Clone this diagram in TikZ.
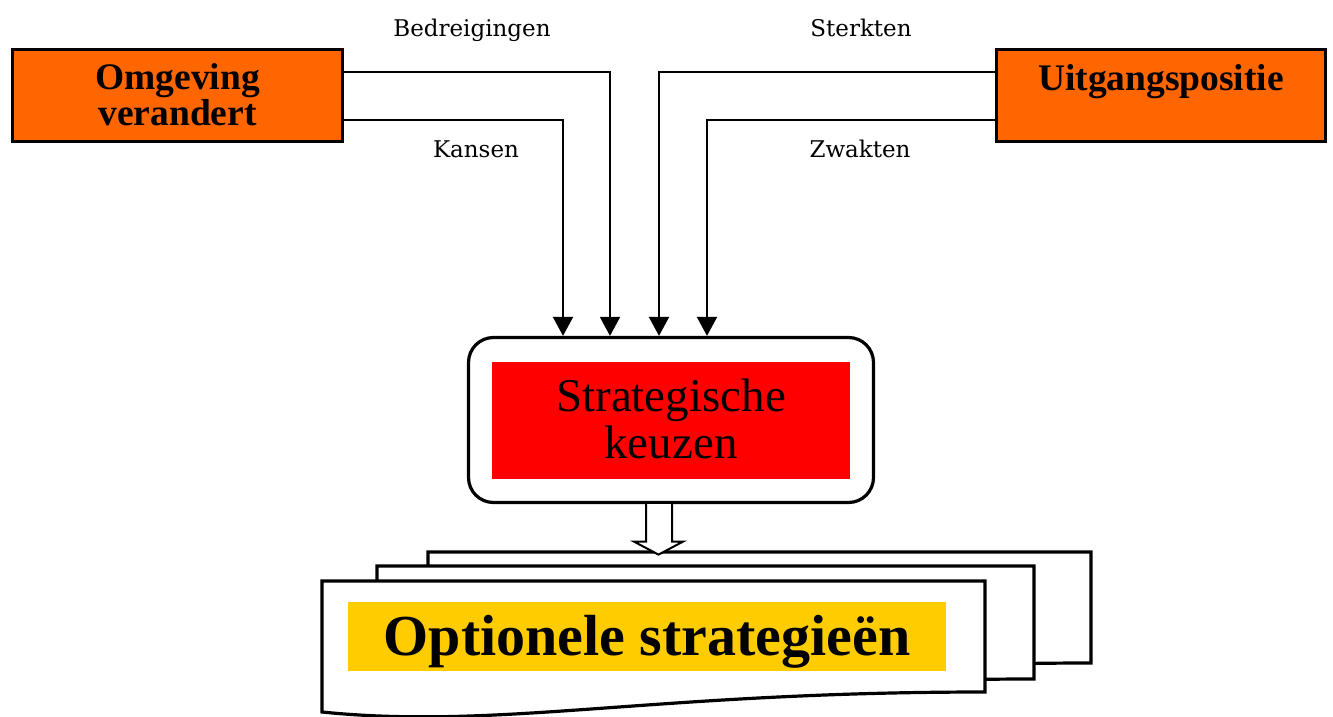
\documentclass[tikz,border=0pt]{standalone}
\usepackage{fontspec}
\setmainfont{Liberation Serif}
\newfontfamily\flowfont{DejaVu Serif}
\usetikzlibrary{arrows.meta}

\definecolor{boxorange}{HTML}{FF6600}
\definecolor{keyred}{HTML}{FF0000}
\definecolor{optyellow}{HTML}{FFCC00}

\begin{document}
\begin{tikzpicture}[x=1pt,y=-1pt,
  inputbox/.style={draw=black, line width=3.5pt, fill=boxorange, inner sep=0pt},
  boxtext/.style={font=\bfseries\fontsize{37.5}{33}\selectfont, align=center, inner sep=0pt, anchor=base},
  flowlabel/.style={font=\flowfont\fontsize{23}{26}\selectfont, inner sep=0pt, anchor=base},
  conn/.style={line width=1.8pt, -{Triangle[length=19pt,width=20pt]}},
  docpage/.style={draw=black, line width=3.2pt, fill=white, line join=miter},
]
\useasboundingbox (0,0) rectangle (1333,717);

% input boxes
\node[inputbox, minimum width=330pt, minimum height=92pt] (omg) at (177.5,95.5) {};
\node[boxtext] (omgtext) at (177.5,125) {Omgeving\\verandert};
\node[inputbox, minimum width=329pt, minimum height=92pt] (upos) at (1161,95.5) {};
\node[boxtext] (upostext) at (1161,90) {Uitgangspositie};

% central decision box
\node[draw=black, line width=3.2pt, rounded corners=25pt, fill=white,
      minimum width=405pt, minimum height=165pt, inner sep=0pt] (sk) at (671,420) {};
\node[fill=keyred, minimum width=358pt, minimum height=117pt, inner sep=0pt] (skcore) at (671,420.5) {};
\node[font=\fontsize{47}{47}\selectfont, align=center, inner sep=0pt, anchor=base] (sktext) at (671,458) {Strategische\\keuzen};

% flows into the decision
\draw[conn] ([yshift=-24.5pt]omg.east) -| ([xshift=-108pt]sk.north);
\draw[conn] ([yshift=23.5pt]omg.east) -| ([xshift=-61pt]sk.north);
\draw[conn] ([yshift=23.5pt]upos.west) -| ([xshift=-12pt]sk.north);
\draw[conn] ([yshift=-24.5pt]upos.west) -| ([xshift=36pt]sk.north);

\node[flowlabel] (lbed) at (472,37) {Bedreigingen};
\node[flowlabel] (lkan) at (476,157) {Kansen};
\node[flowlabel] (lste) at (861,37) {Sterkten};
\node[flowlabel] (lzwa) at (860,157) {Zwakten};

% stacked documents
\draw[docpage] (428,552) -- (1091,552) -- (1091,663)
  .. controls (763,663) and (606,701) .. (428,683) -- cycle;
\draw[docpage] (377,566) -- (1034,566) -- (1034,679)
  .. controls (709,679) and (555,717) .. (377,699) -- cycle;
\draw[docpage] (322,581) -- (985,581) -- (985,692)
  .. controls (650,692) and (500,730) .. (322,712) -- cycle;

\node[fill=optyellow, minimum width=598pt, minimum height=69pt, inner sep=0pt] (opt) at (647,636.5) {};
\node[font=\bfseries\fontsize{58}{58}\selectfont, inner sep=0pt, anchor=base] (opttext) at (647,655) {Optionele strategieën};

% hollow result arrow
\begin{scope}[shift={(sk.south)}]
  \draw[line width=2pt, fill=white, line join=miter]
    (-25,0) -- (-25,37.5) -- (-37,37.5) -- (-12.5,50.5) -- (12,37.5) -- (1,37.5) -- (1,0);
\end{scope}
\end{tikzpicture}
\end{document}
